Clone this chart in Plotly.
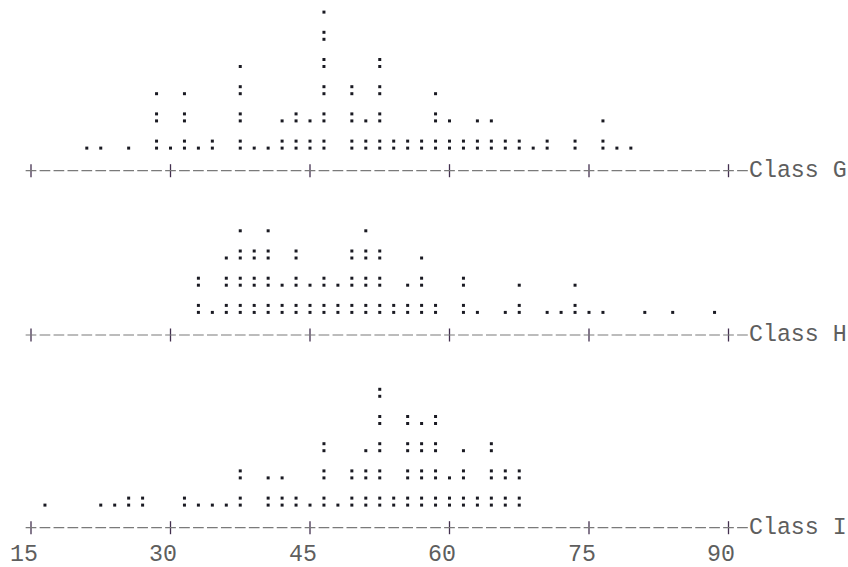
import plotly.graph_objects as go

# ---------------- data ----------------
tick_values = [15, 30, 45, 60, 75, 90]
tick_labels = ["15", "30", "45", "60", "75", "90"]
class_names = ["Class G", "Class H", "Class I"]

# bin centres (width 1.5) and number of observations in each bin
g_bins = [21.0, 22.5, 25.5, 28.5, 30.0, 31.5, 33.0, 34.5, 37.5, 39.0, 40.5, 42.0,
          43.5, 45.0, 46.5, 49.5, 51.0, 52.5, 54.0, 55.5, 57.0, 58.5, 60.0, 61.5,
          63.0, 64.5, 66.0, 67.5, 69.0, 70.5, 73.5, 76.5, 78.0, 79.5]
g_counts = [1, 1, 1, 5, 1, 5, 1, 2, 7, 1, 1, 3,
            4, 3, 11, 6, 3, 8, 2, 2, 2, 5, 3, 2,
            3, 3, 2, 2, 1, 2, 2, 3, 1, 1]

h_bins = [33.0, 34.5, 36.0, 37.5, 39.0, 40.5, 42.0, 43.5, 45.0, 46.5, 48.0, 49.5,
          51.0, 52.5, 54.0, 55.5, 57.0, 58.5, 61.5, 63.0, 66.0, 67.5, 70.5, 72.0,
          73.5, 75.0, 76.5, 81.0, 84.0, 88.5]
h_counts = [4, 1, 5, 7, 6, 7, 3, 6, 3, 4, 3, 6,
            7, 6, 2, 3, 5, 2, 4, 1, 1, 3, 1, 1,
            3, 1, 1, 1, 1, 1]

i_bins = [16.5, 22.5, 24.0, 25.5, 27.0, 31.5, 33.0, 34.5, 36.0, 37.5, 40.5, 42.0,
          43.5, 45.0, 46.5, 48.0, 49.5, 51.0, 52.5, 54.0, 55.5, 57.0, 58.5, 60.0,
          61.5, 63.0, 64.5, 66.0, 67.5]
i_counts = [1, 1, 1, 2, 2, 2, 1, 1, 1, 4, 3, 3,
            2, 1, 6, 1, 4, 5, 10, 2, 8, 7, 8, 3,
            5, 2, 6, 4, 4]

# ---------------- layout constants ----------------
W, H = 848, 567
CHAR_W = 13.95            # width of one character cell (px)
BIN_W = 1.5               # data units per character cell
PX_PER_UNIT = CHAR_W / BIN_W
X0_PX = 31.0              # pixel position of value 15
XMIN = 15 - X0_PX / PX_PER_UNIT
XMAX = XMIN + W / PX_PER_UNIT

AXIS_Y = [170.7, 335.0, 527.7]   # vertical position of each class's axis line (px)
DOT_OFFSET = 22.6                # bottom dot above axis line
ROW_STEP = 27.2                  # text line height
PAIR_GAP = 7.0                   # vertical gap between the two dots of ':'
LABEL_Y = 555.0
FONT = "Liberation Mono, Courier New, monospace"
FONT_SIZE = CHAR_W / 0.6
TEXT_COLOR = "#5e5e5e"
DOT_COLOR = "#1a1a22"

fig = go.Figure()

series = [(g_bins, g_counts), (h_bins, h_counts), (i_bins, i_counts)]
for (bins, counts), base, name in zip(series, AXIS_Y, class_names):
    xs, ys = [], []
    for b, n in zip(bins, counts):
        for k in range(n):
            row = k // 2
            upper = k % 2
            xs.append(b)
            ys.append(base - DOT_OFFSET - ROW_STEP * row - PAIR_GAP * upper)
    fig.add_trace(go.Scatter(
        x=xs, y=ys, mode="markers", name=name,
        marker=dict(symbol="square", size=3, color=DOT_COLOR),
        hoverinfo="skip", showlegend=False))

    # dashed axis: "+---------+---------+ ... +-"
    half_dash = 5.35 / PX_PER_UNIT
    fig.add_shape(type="line", xref="x", yref="y",
                  x0=tick_values[0] - half_dash,
                  x1=tick_values[-1] + BIN_W + half_dash,
                  y0=base, y1=base,
                  line=dict(color="#7a7a7a", width=1.2,
                            dash="10.7px,3.25px"))
    # vertical strokes of the '+' signs
    fig.add_trace(go.Scatter(
        x=tick_values, y=[base] * len(tick_values), mode="markers",
        marker=dict(symbol="line-ns", size=9.3,
                    line=dict(color="#43304f", width=1.3)),
        hoverinfo="skip", showlegend=False))
    # class label
    fig.add_annotation(x=tick_values[-1] + 1.5 * BIN_W, y=base,
                       xref="x", yref="y", text=name, showarrow=False,
                       xanchor="left", yanchor="middle",
                       borderpad=0, borderwidth=0,
                       font=dict(family=FONT, size=FONT_SIZE, color=TEXT_COLOR))

# tick labels below the last axis
for v, t in zip(tick_values, tick_labels):
    fig.add_annotation(x=v + BIN_W / 2, y=LABEL_Y, xref="x", yref="y",
                       text=t, showarrow=False, xanchor="right", yanchor="middle",
                       borderpad=0, borderwidth=0,
                       font=dict(family=FONT, size=FONT_SIZE, color=TEXT_COLOR))

fig.update_layout(
    width=W, height=H, autosize=False,
    margin=dict(l=0, r=0, t=0, b=0, pad=0),
    paper_bgcolor="white", plot_bgcolor="white",
    xaxis=dict(range=[XMIN, XMAX], visible=False, fixedrange=True),
    yaxis=dict(range=[H, 0], visible=False, fixedrange=True),
    showlegend=False,
)

fig.write_html("out.html",
               config={"displayModeBar": False, "staticPlot": True},
               post_script="document.body.style.margin='0';"
                           "document.body.style.overflow='hidden';")
